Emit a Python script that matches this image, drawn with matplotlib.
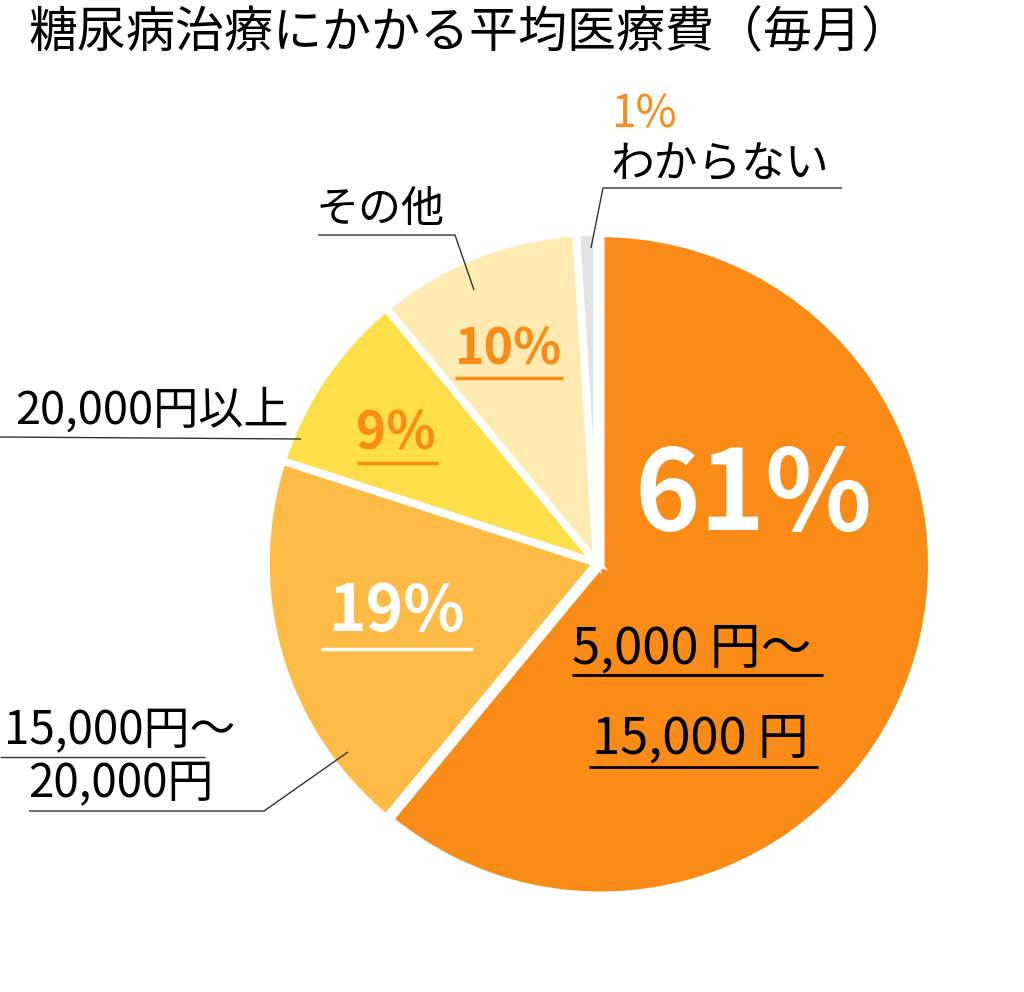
import matplotlib
matplotlib.use("Agg")
import matplotlib.pyplot as plt

# ---- data ----
title = "糖尿病治療にかかる平均医療費（毎月）"
categories = ["5,000 円～\n15,000 円", "15,000円～\n20,000円", "20,000円以上", "その他", "わからない"]
values = [61, 19, 9, 10, 1]
pct_labels = ["61%", "19%", "9%", "10%", "1%"]
colors = ["#F98B16", "#FDBB46", "#FEDE49", "#FFEBB2", "#E3E3E3"]

W, H = 1024, 992
plt.rcParams['font.family'] = ['Noto Sans CJK JP', 'DejaVu Sans']

fig = plt.figure(figsize=(W / 100, H / 100), dpi=100)
ax = fig.add_axes([0, 0, 1, 1])

def Y(y):
    return H - y

ax.pie(values, colors=colors, startangle=90, counterclock=False,
       center=(597, Y(563)), radius=331,
       explode=[4, 0, 0, 0, 0],
       wedgeprops=dict(edgecolor="white", linewidth=5.5))
ax.set_xlim(0, W)
ax.set_ylim(0, H)
ax.set_aspect('equal')
ax.axis('off')

ORANGE = "#F98B16"
LINE = "#333333"

def txt(x, y, s, size, color="black", weight="normal", ha="left"):
    ax.text(x, Y(y), s, fontsize=size, color=color, fontweight=weight,
            ha=ha, va="center")

def seg(xs, ys, color=LINE, lw=1.0):
    ax.plot(xs, [Y(v) for v in ys], color=color, lw=lw, solid_capstyle="butt")

# title
txt(28, 34, title, 35.3)

# わからない 1%
txt(611, 114, pct_labels[4], 32, color=ORANGE)
txt(611, 165, categories[4], 31.5)
seg([842, 603, 591], [188, 188, 248])

# その他
txt(316, 210, categories[3], 31)
seg([318, 455, 474], [235, 235, 290])

# 20,000円以上
txt(15, 411, categories[2], 32.5)
seg([0, 301], [437, 439])

# 15,000円～ / 20,000円
cat2 = categories[1].split("\n")
txt(4, 731, cat2[0], 33)
seg([0, 205], [757, 757])
txt(28, 784, cat2[1], 33)
seg([29, 264, 348], [811, 811, 752])

# percentage labels inside slices
txt(634, 498, pct_labels[0], 80, color="white", weight="bold")
txt(329, 612, pct_labels[1], 46, color="white", weight="bold")
seg([321, 473], [649, 649], color="white", lw=2.5)
txt(356, 434, pct_labels[2], 37, color=ORANGE, weight="bold")
seg([357, 438], [463, 463], color=ORANGE, lw=2.5)
txt(455, 350, pct_labels[3], 36, color=ORANGE, weight="bold")
seg([455, 563], [378, 378], color=ORANGE, lw=2.5)

# 61% category text
cat0 = categories[0].split("\n")
txt(572, 650, cat0[0], 36.5)
seg([572, 823], [675, 675], color="black", lw=2)
txt(592, 740, cat0[1], 36.5)
seg([589, 818], [767, 767], color="black", lw=2)

fig.savefig("out.png", dpi=100, facecolor="white")
